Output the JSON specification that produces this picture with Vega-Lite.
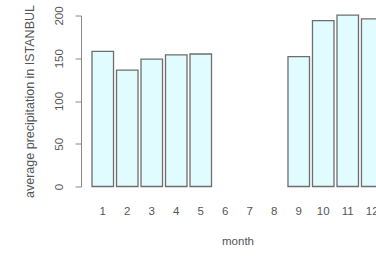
{
  "$schema": "https://vega.github.io/schema/vega-lite/v6.json",
  "autosize": {"type": "none"},
  "padding": {"left": 81, "top": 15.5, "right": 0, "bottom": 69.5},
  "width": 313,
  "height": 171,
  "background": "white",
  "config": {
    "view": {"stroke": null},
    "font": "Liberation Sans"
  },
  "data": {
    "values": [
      {"month": 1, "precip": 158},
      {"month": 2, "precip": 136},
      {"month": 3, "precip": 149},
      {"month": 4, "precip": 154},
      {"month": 5, "precip": 155},
      {"month": 9, "precip": 152},
      {"month": 10, "precip": 194},
      {"month": 11, "precip": 200.5},
      {"month": 12, "precip": 196}
    ]
  },
  "mark": {"type": "bar", "fill": "#E0FCFF", "stroke": "#6e6e6e", "strokeWidth": 1.3},
  "encoding": {
    "x": {
      "field": "month",
      "type": "ordinal",
      "scale": {"domain": [1, 2, 3, 4, 5, 6, 7, 8, 9, 10, 11, 12], "paddingInner": 0.122, "paddingOuter": 0.45},
      "axis": {
        "title": "month",
        "labelAngle": 0,
        "ticks": false,
        "domain": false,
        "grid": false,
        "labelPadding": 19,
        "labelFontSize": 11.5,
        "labelColor": "#555",
        "titleFontSize": 11.5,
        "titleFontWeight": "normal",
        "titleColor": "#555",
        "titlePadding": 18
      }
    },
    "y": {
      "field": "precip",
      "type": "quantitative",
      "scale": {"domain": [0, 200], "nice": false, "zero": true},
      "axis": {
        "title": "average precipitation in ISTANBUL",
        "values": [0, 50, 100, 150, 200],
        "grid": false,
        "domainColor": "#888",
        "tickColor": "#888",
        "tickSize": 6,
        "labelAngle": -90,
        "labelAlign": "center",
        "labelBaseline": "bottom",
        "labelPadding": 11,
        "labelFontSize": 11.5,
        "labelColor": "#555",
        "titleFontSize": 12.5,
        "titleFontWeight": "normal",
        "titleColor": "#555",
        "titlePadding": 17
      }
    }
  }
}
